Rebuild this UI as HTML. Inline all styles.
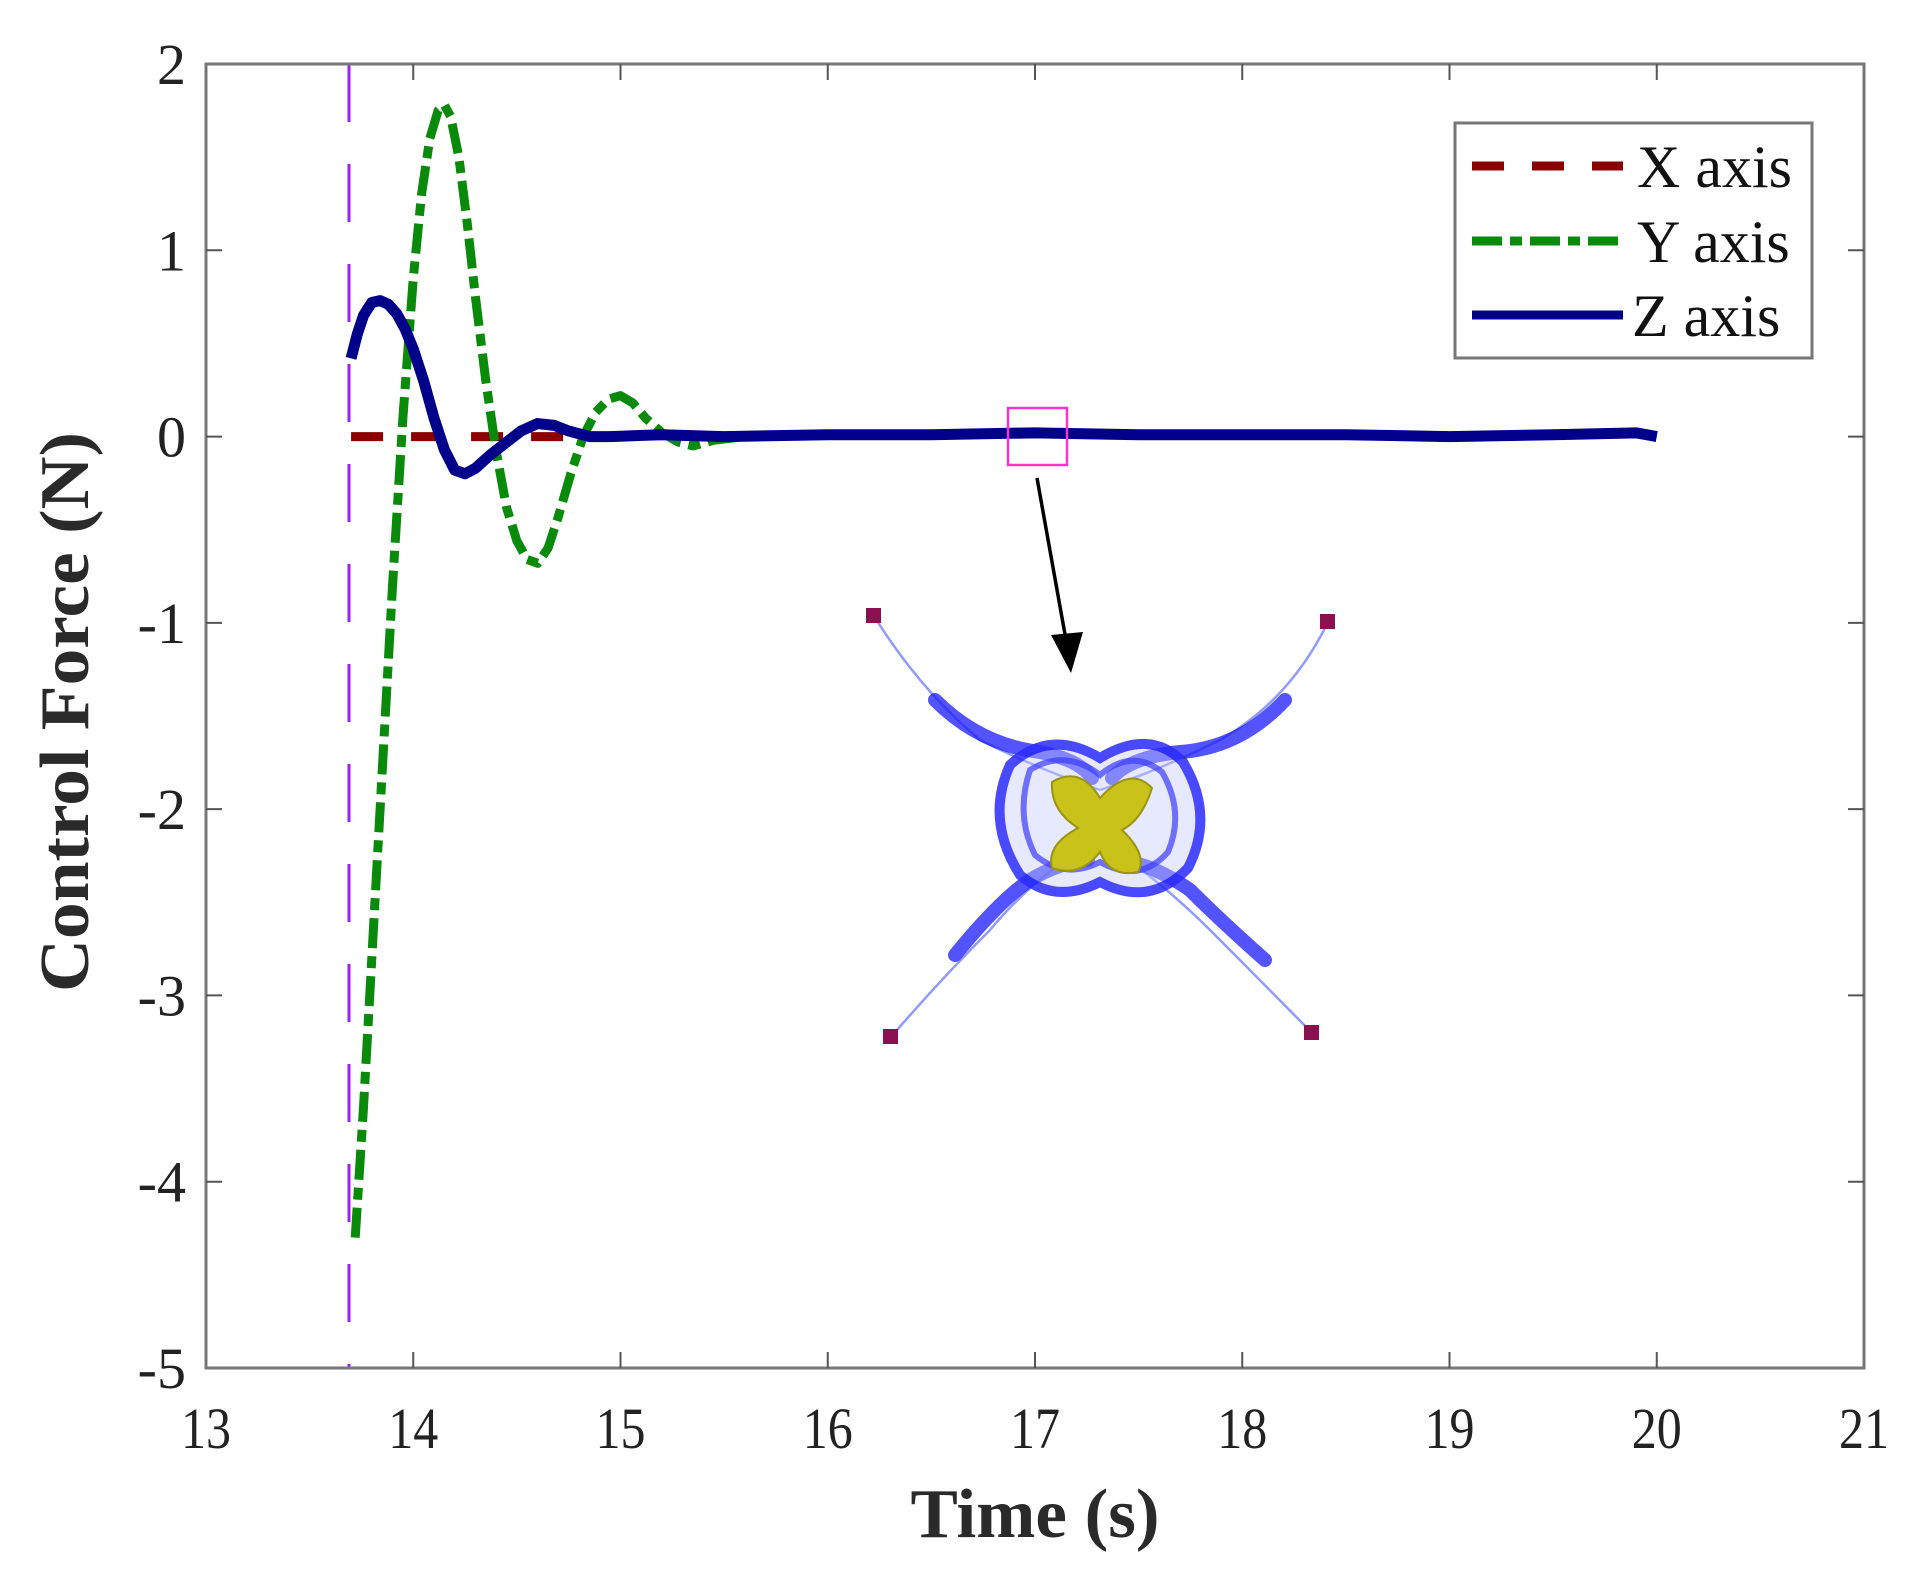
<!DOCTYPE html>
<html><head><meta charset="utf-8"><style>
html,body{margin:0;padding:0;background:#fff;}
svg{display:block;font-family:"Liberation Serif",serif;}
</style></head><body>
<svg id="chart" width="1920" height="1571" viewBox="0 0 1920 1571" xmlns="http://www.w3.org/2000/svg">
<rect x="0" y="0" width="1920" height="1571" fill="#fff"/>
<g id="inset">
  <g fill="none" stroke="#8f9bff" stroke-width="2.5">
    <path d="M874,616 Q920,690 980,740 Q1040,770 1100,790"/>
    <path d="M1328,622 Q1290,700 1220,740 Q1160,770 1100,790"/>
    <path d="M891,1037 Q940,980 990,930 Q1040,870 1100,840"/>
    <path d="M1312,1033 Q1260,980 1210,930 Q1160,880 1100,840"/>
  </g>
  <g fill="none" stroke="#1a1aff" stroke-width="14" opacity="0.75" stroke-linecap="round">
    <path d="M935,700 Q980,745 1040,752 Q1080,760 1092,778"/>
    <path d="M1285,700 Q1240,748 1180,752 Q1130,757 1112,778"/>
    <path d="M955,955 Q1000,900 1030,880 Q1060,862 1088,860"/>
    <path d="M1265,960 Q1220,920 1190,890 Q1150,862 1115,860"/>
  </g>
  <path d="M1010,765 Q985,820 1020,875 Q1055,905 1100,882 Q1150,908 1188,868 Q1215,815 1183,762 Q1150,728 1100,758 Q1050,728 1010,765 Z" fill="#c8ccff" fill-opacity="0.5" stroke="#2a2aff" stroke-width="10" opacity="0.85"/>
  <path d="M1030,770 Q1015,815 1035,855 Q1065,880 1100,862 Q1140,884 1168,852 Q1185,812 1162,772 Q1132,748 1100,775 Q1065,748 1030,770 Z" fill="none" stroke="#3b3bff" stroke-width="6" opacity="0.7"/>
  <path d="M1052,782 Q1080,765 1100,798 Q1130,765 1152,788 Q1142,820 1122,830 Q1148,855 1138,872 Q1110,878 1100,852 Q1080,878 1052,868 Q1046,845 1078,828 Q1050,810 1052,782 Z" fill="#c8c21a" stroke="#9a9410" stroke-width="2"/>
  <rect x="866" y="608" width="15" height="15" fill="#8a1050"/>
  <rect x="1320" y="614" width="15" height="15" fill="#8a1050"/>
  <rect x="883" y="1029" width="15" height="15" fill="#8a1050"/>
  <rect x="1304" y="1025" width="15" height="15" fill="#8a1050"/>
</g>
<g id="series"></g>
<rect x="1008" y="408" width="59" height="57" fill="none" stroke="#ff33cc" stroke-width="2.5"/>
<g>
  <line x1="1037" y1="478" x2="1066" y2="640" stroke="#000" stroke-width="3.5"/>
  <polygon points="1051,635 1083,632 1071,673" fill="#000"/>
</g>
<rect x="206" y="64" width="1658" height="1304" fill="none" stroke="#777" stroke-width="3"/>
<g id="ticks"></g>
<g>
  <rect x="1455" y="123" width="357" height="235" fill="#fff" stroke="#777" stroke-width="3"/>
  <line x1="1472" y1="166" x2="1623" y2="166" stroke="#8b0000" stroke-width="9" stroke-dasharray="32,28"/>
  <text x="1637" y="187" font-size="60" fill="#111">X axis</text>
  <line x1="1472" y1="241" x2="1623" y2="241" stroke="#0a8a0a" stroke-width="9" stroke-dasharray="30,8,12,8"/>
  <text x="1637" y="262" font-size="60" fill="#111">Y axis</text>
  <line x1="1472" y1="315" x2="1623" y2="315" stroke="#00008b" stroke-width="9"/>
  <text x="1632" y="336" font-size="60" fill="#111">Z axis</text>
</g>
<text x="1035" y="1537" font-size="70" font-weight="bold" fill="#2a2a2a" text-anchor="middle" textLength="249" lengthAdjust="spacingAndGlyphs">Time (s)</text>
<text transform="translate(88,712) rotate(-90)" font-size="70" font-weight="bold" fill="#2a2a2a" text-anchor="middle" textLength="560" lengthAdjust="spacingAndGlyphs">Control Force (N)</text>
</svg>
<script>
const xTicks = [13,14,15,16,17,18,19,20,21];
const yTicks = [2,1,0,-1,-2,-3,-4,-5];
const markerTime = 13.69;
const xTime = [13.7,14.75];
const xVals = [0,0];
const yTime = [13.72,13.76,13.8,13.85,13.9,13.95,14.0,14.04,14.08,14.12,14.15,14.18,14.22,14.26,14.3,14.35,14.4,14.45,14.5,14.55,14.6,14.65,14.7,14.76,14.82,14.88,14.94,15.0,15.06,15.12,15.2,15.28,15.35,15.45,15.6];
const yVals = [-4.3,-3.6,-2.8,-1.8,-0.8,0.1,0.85,1.3,1.6,1.75,1.78,1.72,1.5,1.15,0.75,0.3,-0.08,-0.38,-0.56,-0.66,-0.68,-0.6,-0.43,-0.2,0.0,0.13,0.2,0.22,0.18,0.1,0.02,-0.03,-0.05,-0.02,0];
const zTime = [13.7,13.73,13.76,13.8,13.84,13.88,13.92,13.96,14.0,14.05,14.1,14.15,14.2,14.25,14.3,14.37,14.45,14.52,14.6,14.68,14.75,14.85,14.95,15.2,15.5,16,16.5,17,17.5,18,18.5,19,19.5,19.9,20];
const zVals = [0.42,0.55,0.65,0.72,0.73,0.71,0.66,0.58,0.47,0.3,0.1,-0.07,-0.18,-0.2,-0.17,-0.1,-0.03,0.03,0.07,0.06,0.03,0.0,0.0,0.01,0.0,0.01,0.01,0.02,0.01,0.01,0.01,0.0,0.01,0.02,0.0];
const X0=206,X1=1864,Y0=64,Y1=1368;
function sx(v){return X0+(v-13)/(21-13)*(X1-X0);}
function sy(v){return Y0+(2-v)/(2+5)*(Y1-Y0);}
const NS="http://www.w3.org/2000/svg";
const ticks=document.getElementById('ticks');
xTicks.forEach(t=>{
  const x=sx(t);
  if(t>13&&t<21){
    const l=document.createElementNS(NS,'path');
    l.setAttribute('d',`M${x},${Y1}V${Y1-16}M${x},${Y0}V${Y0+16}`);
    l.setAttribute('stroke','#555');l.setAttribute('stroke-width','2');
    
    
    ticks.appendChild(l);
  }
  const tx=document.createElementNS(NS,'text');
  tx.setAttribute('x',x);tx.setAttribute('y',1448);tx.setAttribute('font-size','58');
  tx.setAttribute('text-anchor','middle');tx.setAttribute('fill','#222');
  tx.setAttribute('textLength','50');tx.setAttribute('lengthAdjust','spacingAndGlyphs');
  tx.textContent=t;
  
  
  ticks.appendChild(tx);
});
yTicks.forEach(t=>{
  const y=sy(t);
  if(t<2&&t>-5){
    const l=document.createElementNS(NS,'path');
    l.setAttribute('d',`M${X0},${y}H${X0+16}M${X1},${y}H${X1-16}`);
    l.setAttribute('stroke','#555');l.setAttribute('stroke-width','2');
    
    
    ticks.appendChild(l);
  }
  const tx=document.createElementNS(NS,'text');
  tx.setAttribute('x',186);tx.setAttribute('y',y+20);tx.setAttribute('font-size','58');
  tx.setAttribute('text-anchor','end');tx.setAttribute('fill','#222');
  tx.textContent=t;
  
  
  ticks.appendChild(tx);
});
const series=document.getElementById('series');
const mk=document.createElementNS(NS,'line');
mk.setAttribute('x1',sx(markerTime));mk.setAttribute('x2',sx(markerTime));
mk.setAttribute('y1',Y0);mk.setAttribute('y2',Y1);
mk.setAttribute('stroke','#a020f0');mk.setAttribute('stroke-width','3');mk.setAttribute('stroke-dasharray','58,42');


series.appendChild(mk);
function line(ts,vs,color,dash,w,name){
  const p=document.createElementNS(NS,'polyline');
  p.setAttribute('points',ts.map((t,i)=>sx(t)+','+sy(vs[i])).join(' '));
  p.setAttribute('fill','none');p.setAttribute('stroke',color);p.setAttribute('stroke-width',w);
  p.setAttribute('stroke-linejoin','round');
  if(dash)p.setAttribute('stroke-dasharray',dash);
  
  
  series.appendChild(p);
}
line(xTime,xVals,'#8b0000','32,28','9','x-axis-series');
line(yTime,yVals,'#0a8a0a','30,8,12,8','9','y-axis-series');
line(zTime,zVals,'#00008b','','11','z-axis-series');
</script>
</body></html>
